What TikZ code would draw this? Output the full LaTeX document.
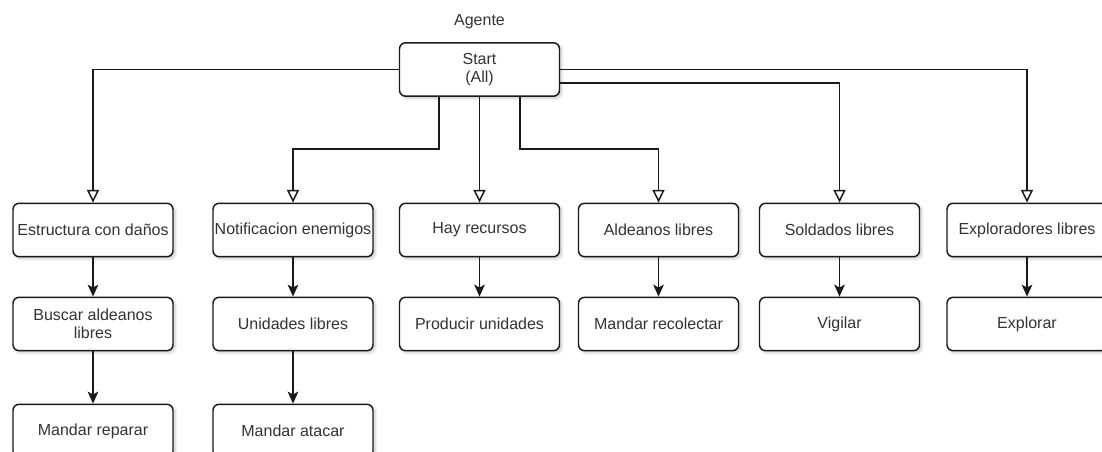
\documentclass[tikz,border=0pt]{standalone}
\usepackage{fontspec}
\setmainfont{Liberation Sans}
\usetikzlibrary{arrows.meta,calc,shadows.blur}
\definecolor{txt}{HTML}{333333}
\begin{document}
\begin{tikzpicture}[x=0.75pt,y=-0.75pt,
  box/.style={draw=black!90, line width=1.1pt, rounded corners=4.5pt, fill=white,
    minimum width=120pt, minimum height=40pt, inner sep=1pt, align=center,
    text=txt, font=\fontsize{12pt}{13.5pt}\selectfont,
    blur shadow={shadow xshift=1.6pt, shadow yshift=-1.6pt, shadow blur steps=6, shadow opacity=22}},
  wire/.style={draw=black!90, line width=1.1pt},
  open/.style={wire, -{Triangle[open, length=9.5pt, width=9pt, fill=white]}},
  filled/.style={wire, -{Stealth[length=9pt, width=8pt, inset=2.2pt]}}
]
\useasboundingbox (0,0) rectangle (1102,452);
\clip (0,0) rectangle (1102,452);

% root
\node[text=txt, font=\fontsize{12pt}{13.5pt}\selectfont] (title) at (479.5,22) {Agente};
\node[box] (start) at (479.5,69.5) {Start\\(All)};

% first row: conditions
\node[box] (e1) at (93,230)    {Estructura con daños};
\node[box] (n1) at (293,230)   {Notificacion enemigos};
\node[box] (h1) at (479.5,230) {Hay recursos};
\node[box] (a1) at (658.5,230) {Aldeanos libres};
\node[box] (s1) at (839.5,230) {Soldados libres};
\node[box] (x1) at (1027,230)  {Exploradores libres};

% second row
\node[box] (e2) at (93,324)    {Buscar aldeanos\\libres};
\node[box] (n2) at (293,324)   {Unidades libres};
\node[box] (h2) at (479.5,324) {Producir unidades};
\node[box] (a2) at (658.5,324) {Mandar recolectar};
\node[box] (s2) at (839.5,324) {Vigilar};
\node[box] (x2) at (1027,324)  {Explorar};

% third row
\node[box] (e3) at (93,431)  {Mandar reparar};
\node[box] (n3) at (293,431) {Mandar atacar};

% exit points on the root box
\coordinate (sq1) at ($(start.south west)!0.25!(start.south east)$);
\coordinate (sq3) at ($(start.south west)!0.75!(start.south east)$);
\coordinate (eq3) at ($(start.north east)!0.75!(start.south east)$);

% root to conditions
\draw[open] (start.west) -| (e1.north);
\draw[open] (sq1) -- (sq1 |- 0,149) -| (n1.north);
\draw[open] (start.south) -- (h1.north);
\draw[open] (sq3) -- (sq3 |- 0,149) -| (a1.north);
\draw[open] (eq3) -| (s1.north);
\draw[open] (start.east) -| (x1.north);

% conditions to actions
\draw[filled] (e1) -- (e2);
\draw[filled] (e2) -- (e3);
\draw[filled] (n1) -- (n2);
\draw[filled] (n2) -- (n3);
\draw[filled] (h1) -- (h2);
\draw[filled] (a1) -- (a2);
\draw[filled] (s1) -- (s2);
\draw[filled] (x1) -- (x2);
\end{tikzpicture}
\end{document}
